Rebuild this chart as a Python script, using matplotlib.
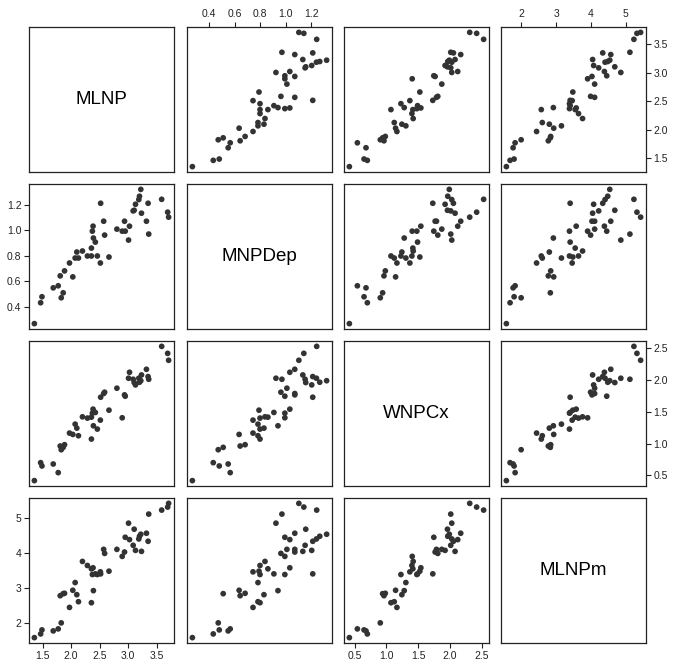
import matplotlib
matplotlib.use("Agg")
from matplotlib import pyplot as plt

plt.rcParams["font.family"] = ["Liberation Sans", "DejaVu Sans"]

names = ["MLNP", "MNPDep", "WNPCx", "MLNPm"]

mlnp = [1.355, 1.465, 1.488, 1.686, 1.773, 1.808, 1.826, 1.860, 1.884, 1.971,
        2.029, 2.070, 2.099, 2.128, 2.198, 2.285, 2.355, 2.355, 2.372, 2.384,
        2.390, 2.424, 2.459, 2.512, 2.517, 2.570, 2.587, 2.663, 2.802, 2.895,
        2.936, 2.948, 3.006, 3.023, 3.087, 3.105, 3.128, 3.186, 3.198, 3.221,
        3.233, 3.320, 3.349, 3.360, 3.587, 3.692, 3.709]
mnpdep = [0.268, 0.432, 0.479, 0.549, 0.565, 0.643, 0.471, 0.510, 0.682, 0.744,
          0.635, 0.783, 0.830, 0.783, 0.838, 0.799, 0.799, 0.861, 0.994, 1.033,
          0.940, 0.908, 0.799, 0.744, 1.213, 1.072, 0.963, 0.791, 1.010, 0.994,
          1.072, 0.994, 0.924, 1.033, 1.153, 1.158, 1.205, 1.242, 1.268, 1.322,
          1.135, 1.072, 1.213, 0.971, 1.244, 1.143, 1.104]
wnpcx = [0.416, 0.699, 0.647, 0.678, 0.542, 0.961, 0.903, 0.940, 0.982, 1.165,
         1.144, 1.306, 1.243, 1.123, 1.421, 1.401, 1.071, 1.416, 1.479, 1.542,
         1.280, 1.490, 1.228, 1.369, 1.730, 1.788, 1.809, 1.526, 1.872, 1.406,
         1.767, 1.746, 2.029, 2.123, 2.013, 1.961, 1.924, 2.029, 1.966, 1.990,
         2.081, 2.170, 2.055, 2.013, 2.531, 2.421, 2.312]
mlnpm = [1.567, 1.673, 1.789, 1.760, 1.818, 2.772, 1.991, 2.830, 2.840, 2.435,
         2.927, 3.149, 2.801, 2.599, 3.756, 3.640, 2.570, 3.544, 3.380, 3.573,
         2.917, 3.399, 3.380, 3.457, 3.399, 4.103, 3.987, 3.476, 4.103, 3.901,
         4.026, 4.450, 4.855, 4.383, 4.219, 4.682, 4.074, 4.402, 4.479, 4.537,
         4.045, 4.566, 4.335, 5.116, 5.231, 5.318, 5.424]

ticks = [[1.5, 2.0, 2.5, 3.0, 3.5],
         [0.4, 0.6, 0.8, 1.0, 1.2],
         [0.5, 1.0, 1.5, 2.0, 2.5],
         [2, 3, 4, 5]]
tick_labels = [["1.5", "2.0", "2.5", "3.0", "3.5"],
               ["0.4", "0.6", "0.8", "1.0", "1.2"],
               ["0.5", "1.0", "1.5", "2.0", "2.5"],
               ["2", "3", "4", "5"]]

data = [mlnp, mnpdep, wnpcx, mlnpm]

# R pads the data range by 4% on each side
lims = []
for v in data:
	span = max(v) - min(v)
	lims.append((min(v) - 0.04 * span, max(v) + 0.04 * span))

W, H = 674, 670
fig = plt.figure(figsize=(W / 100, H / 100), dpi=100)

col_left = [29, 187, 344, 501]
row_top = [27, 184, 341, 498]
size = 145

for i in range(4):
	for j in range(4):
		ax = fig.add_axes([col_left[j] / W, 1 - (row_top[i] + size) / H, size / W, size / H])
		ax.set_xlim(lims[j])
		ax.set_ylim(lims[i])
		for s in ax.spines.values():
			s.set_color("#222222")
			s.set_linewidth(0.9)
		ax.tick_params(which="both", bottom=False, top=False, left=False, right=False,
		               labelbottom=False, labeltop=False, labelleft=False, labelright=False,
		               length=3.5, width=0.8, pad=2, labelsize=7.5, colors="#222222")
		if i == j:
			ax.text(0.5, 0.5, names[i], transform=ax.transAxes, ha="center", va="center",
			        fontsize=13.5, color="black")
		else:
			ax.scatter(data[j], data[i], s=17, color="#333333", edgecolors="none")

		if i == 0 and j % 2 == 1:
			ax.set_xticks(ticks[j], tick_labels[j])
			ax.tick_params(top=True, labeltop=True)
		elif i == 3 and j % 2 == 0:
			ax.set_xticks(ticks[j], tick_labels[j])
			ax.tick_params(bottom=True, labelbottom=True)
		if j == 0 and i % 2 == 1:
			ax.set_yticks(ticks[i], tick_labels[i])
			ax.tick_params(left=True, labelleft=True)
		elif j == 3 and i % 2 == 0:
			ax.set_yticks(ticks[i], tick_labels[i])
			ax.tick_params(right=True, labelright=True)

fig.savefig("out.png", dpi=100)
